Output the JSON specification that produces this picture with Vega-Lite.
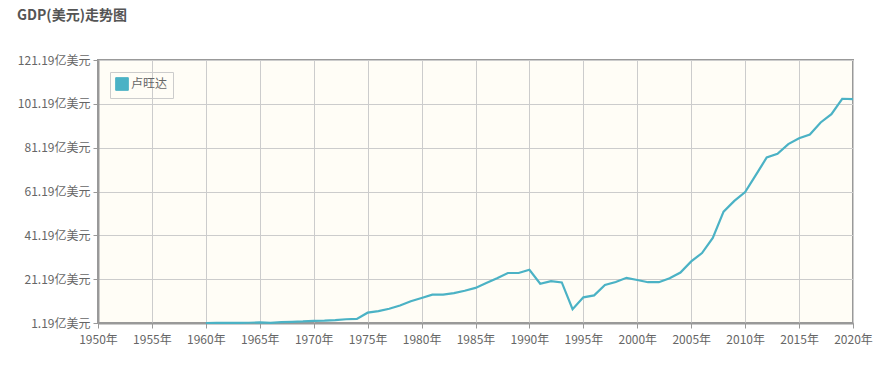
{
  "$schema": "https://vega.github.io/schema/vega-lite/v6.json",
  "autosize": {"type": "none"},
  "width": 755,
  "height": 263,
  "padding": {"left": 98, "top": 60, "right": 32, "bottom": 44},
  "background": "#ffffff",
  "title": {
    "text": "GDP(美元)走势图",
    "anchor": "start",
    "frame": "group",
    "dx": -81,
    "offset": 31,
    "font": "Noto Sans CJK SC",
    "fontSize": 14,
    "fontWeight": "bold",
    "color": "#555555"
  },
  "data": {
    "values": [
      {"year": 1960, "gdp": 1.19, "country": "卢旺达"},
      {"year": 1961, "gdp": 1.22, "country": "卢旺达"},
      {"year": 1962, "gdp": 1.25, "country": "卢旺达"},
      {"year": 1963, "gdp": 1.28, "country": "卢旺达"},
      {"year": 1964, "gdp": 1.30, "country": "卢旺达"},
      {"year": 1965, "gdp": 1.49, "country": "卢旺达"},
      {"year": 1966, "gdp": 1.25, "country": "卢旺达"},
      {"year": 1967, "gdp": 1.60, "country": "卢旺达"},
      {"year": 1968, "gdp": 1.72, "country": "卢旺达"},
      {"year": 1969, "gdp": 1.89, "country": "卢旺达"},
      {"year": 1970, "gdp": 2.20, "country": "卢旺达"},
      {"year": 1971, "gdp": 2.23, "country": "卢旺达"},
      {"year": 1972, "gdp": 2.46, "country": "卢旺达"},
      {"year": 1973, "gdp": 2.91, "country": "卢旺达"},
      {"year": 1974, "gdp": 3.08, "country": "卢旺达"},
      {"year": 1975, "gdp": 5.9, "country": "卢旺达"},
      {"year": 1976, "gdp": 6.6, "country": "卢旺达"},
      {"year": 1977, "gdp": 7.7, "country": "卢旺达"},
      {"year": 1978, "gdp": 9.2, "country": "卢旺达"},
      {"year": 1979, "gdp": 11.1, "country": "卢旺达"},
      {"year": 1980, "gdp": 12.6, "country": "卢旺达"},
      {"year": 1981, "gdp": 14.1, "country": "卢旺达"},
      {"year": 1982, "gdp": 14.1, "country": "卢旺达"},
      {"year": 1983, "gdp": 14.8, "country": "卢旺达"},
      {"year": 1984, "gdp": 15.9, "country": "卢旺达"},
      {"year": 1985, "gdp": 17.2, "country": "卢旺达"},
      {"year": 1986, "gdp": 19.4, "country": "卢旺达"},
      {"year": 1987, "gdp": 21.6, "country": "卢旺达"},
      {"year": 1988, "gdp": 24.0, "country": "卢旺达"},
      {"year": 1989, "gdp": 24.0, "country": "卢旺达"},
      {"year": 1990, "gdp": 25.5, "country": "卢旺达"},
      {"year": 1991, "gdp": 19.1, "country": "卢旺达"},
      {"year": 1992, "gdp": 20.3, "country": "卢旺达"},
      {"year": 1993, "gdp": 19.7, "country": "卢旺达"},
      {"year": 1994, "gdp": 7.5, "country": "卢旺达"},
      {"year": 1995, "gdp": 12.9, "country": "卢旺达"},
      {"year": 1996, "gdp": 13.8, "country": "卢旺达"},
      {"year": 1997, "gdp": 18.5, "country": "卢旺达"},
      {"year": 1998, "gdp": 19.9, "country": "卢旺达"},
      {"year": 1999, "gdp": 21.8, "country": "卢旺达"},
      {"year": 2000, "gdp": 20.8, "country": "卢旺达"},
      {"year": 2001, "gdp": 19.8, "country": "卢旺达"},
      {"year": 2002, "gdp": 19.8, "country": "卢旺达"},
      {"year": 2003, "gdp": 21.6, "country": "卢旺达"},
      {"year": 2004, "gdp": 24.2, "country": "卢旺达"},
      {"year": 2005, "gdp": 29.3, "country": "卢旺达"},
      {"year": 2006, "gdp": 33.1, "country": "卢旺达"},
      {"year": 2007, "gdp": 40.0, "country": "卢旺达"},
      {"year": 2008, "gdp": 52.0, "country": "卢旺达"},
      {"year": 2009, "gdp": 56.9, "country": "卢旺达"},
      {"year": 2010, "gdp": 60.9, "country": "卢旺达"},
      {"year": 2011, "gdp": 68.8, "country": "卢旺达"},
      {"year": 2012, "gdp": 76.7, "country": "卢旺达"},
      {"year": 2013, "gdp": 78.4, "country": "卢旺达"},
      {"year": 2014, "gdp": 82.8, "country": "卢旺达"},
      {"year": 2015, "gdp": 85.5, "country": "卢旺达"},
      {"year": 2016, "gdp": 87.2, "country": "卢旺达"},
      {"year": 2017, "gdp": 92.7, "country": "卢旺达"},
      {"year": 2018, "gdp": 96.5, "country": "卢旺达"},
      {"year": 2019, "gdp": 103.5, "country": "卢旺达"},
      {"year": 2020, "gdp": 103.3, "country": "卢旺达"}
    ]
  },
  "mark": {"type": "line", "strokeWidth": 2.2},
  "encoding": {
    "x": {
      "field": "year",
      "type": "quantitative",
      "scale": {"domain": [1950, 2020], "nice": false, "zero": false},
      "axis": {
        "title": null,
        "values": [1950, 1955, 1960, 1965, 1970, 1975, 1980, 1985, 1990, 1995, 2000, 2005, 2010, 2015, 2020],
        "labelExpr": "datum.value + '年'",
        "labelOverlap": false,
        "labelFlush": false,
        "labelPadding": 6
      }
    },
    "y": {
      "field": "gdp",
      "type": "quantitative",
      "scale": {"domain": [1.19, 121.19], "nice": false, "zero": false},
      "axis": {
        "title": null,
        "values": [1.19, 21.19, 41.19, 61.19, 81.19, 101.19, 121.19],
        "labelExpr": "format(datum.value, '.2f') + '亿美元'",
        "labelOverlap": false,
        "labelFlush": false
      }
    },
    "color": {
      "field": "country",
      "type": "nominal",
      "scale": {"domain": ["卢旺达"], "range": ["#4bb2c5"]},
      "legend": {
        "title": null,
        "orient": "top-left",
        "offset": 12,
        "strokeColor": "#cccccc",
        "padding": 5,
        "symbolType": "square",
        "symbolSize": 160,
        "symbolFillColor": "#4bb2c5",
        "symbolStrokeColor": "#cccccc",
        "symbolStrokeWidth": 1,
        "symbolOpacity": 1,
        "labelFont": "Noto Sans CJK SC",
        "labelFontSize": 12,
        "labelColor": "#666666",
        "labelOffset": 2
      }
    }
  },
  "config": {
    "view": {"fill": "#fffdf6", "stroke": "#999999", "strokeWidth": 2},
    "axis": {
      "grid": true,
      "gridColor": "#cccccc",
      "gridWidth": 1,
      "domain": true,
      "domainColor": "#999999",
      "domainWidth": 2,
      "ticks": true,
      "tickColor": "#999999",
      "tickSize": 5,
      "labelPadding": 3,
      "labelColor": "#666666",
      "labelFont": "Noto Sans CJK SC",
      "labelFontSize": 12
    }
  }
}
